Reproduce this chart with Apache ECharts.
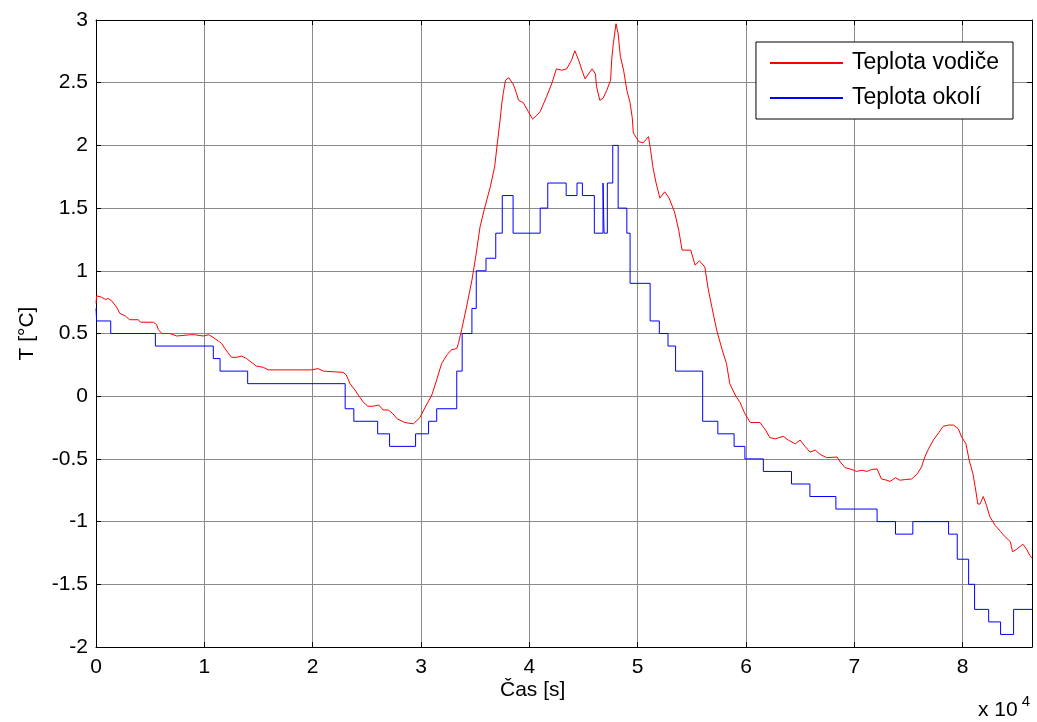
<!DOCTYPE html>
<html>
<head>
<meta charset="utf-8">
<script src="https://cdn.jsdelivr.net/npm/echarts@6/dist/echarts.min.js"></script>
<style>
html, body { margin: 0; padding: 0; background: #fff; }
#main { width: 1037px; height: 722px; }
</style>
</head>
<body>
<div id="main"></div>
<script>
// teplota vodice a okoli behem dne (cas v sekundach)
const seriesNames = ['Teplota vodiče', 'Teplota okolí'];
const yTicks = { min: -2, max: 3, step: 0.5 };
const xTicks = { min: 0, max: 86400, step: 10000 };

// vodic - cas [s]
const casVodic = [
    0, 60, 500, 900, 1100, 1450, 1900, 2200, 2700, 3100, 3900, 4100, 5300, 5600, 5750, 6100,
    6800, 7450, 8700, 9100, 9900, 10400, 10800, 11300, 11600, 11900, 12500, 13000, 13450, 13900,
    14800, 15450, 15900, 19900, 20500, 21000, 22800, 23100, 23450, 23900, 24200, 24700, 25100,
    25600, 26100, 26500, 27000, 27400, 27800, 28500, 29300, 29900, 30500, 31000, 31450, 31900,
    32400, 32800, 33300, 33450, 33750, 34200, 34700, 35100, 35450, 35900, 36400, 36800, 37050,
    37300, 37450, 37600, 37800, 38100, 38500, 38800, 39000, 39450, 39900, 40300, 40800, 41000,
    41600, 42100, 42500, 43000, 43450, 43900, 44200, 44550, 44850, 45150, 45450, 45800, 46100,
    46200, 46500, 46800, 47150, 47500, 47600, 47750, 48000, 48200, 48400, 48700, 49000, 49300,
    49500, 49600, 50100, 50500, 51000, 51200, 51400, 51700, 52050, 52500, 52900, 53400, 53800,
    54100, 54900, 55300, 55700, 56200, 56500, 56850, 57300, 57800, 58200, 58500, 59000, 59450,
    59900, 60400, 61300, 61800, 62200, 62700, 63450, 63900, 64550, 65000, 65450, 65900, 66400,
    66850, 67450, 68400, 68700, 69150, 69800, 70200, 70700, 71150, 71600, 72100, 72500, 73000,
    73300, 73800, 74200, 74700, 75300, 75800, 76200, 76500, 76850, 77300, 77800, 78200, 78700,
    79150, 79600, 79900, 80300, 80600, 80950, 81150, 81400, 81600, 81900, 82200, 82500, 83000,
    83500, 83900, 84400, 84600, 85000, 85550, 85900, 86200, 86400
];
const tempVodic = [
    0.74, 0.80, 0.79, 0.77, 0.78, 0.76, 0.71, 0.66, 0.64, 0.61, 0.61, 0.59, 0.59, 0.57, 0.53, 0.50,
    0.50, 0.48, 0.49, 0.49, 0.48, 0.49, 0.47, 0.44, 0.42, 0.38, 0.31, 0.31, 0.32, 0.30,
    0.24, 0.23, 0.21, 0.21, 0.22, 0.20, 0.19, 0.17, 0.10, 0.05, 0.01, -0.05, -0.08,
    -0.08, -0.07, -0.11, -0.11, -0.14, -0.18, -0.21, -0.22, -0.17, -0.07, 0.01, 0.13, 0.26,
    0.33, 0.37, 0.38, 0.42, 0.53, 0.71, 0.925, 1.14, 1.35, 1.51, 1.67, 1.83, 2.02,
    2.20, 2.33, 2.42, 2.52, 2.54, 2.49, 2.42, 2.36, 2.34, 2.27, 2.21, 2.25, 2.27,
    2.39, 2.50, 2.61, 2.60, 2.61, 2.68, 2.755, 2.68, 2.60, 2.53, 2.57, 2.61, 2.57,
    2.47, 2.36, 2.375, 2.44, 2.52, 2.68, 2.81, 2.97, 2.89, 2.71, 2.60, 2.44, 2.34,
    2.22, 2.10, 2.03, 2.02, 2.07, 1.96, 1.83, 1.70, 1.58, 1.63, 1.58, 1.47, 1.32,
    1.165, 1.165, 1.045, 1.08, 1.03, 0.86, 0.71, 0.525, 0.37, 0.26, 0.10, 0.01, -0.05,
    -0.14, -0.21, -0.21, -0.27, -0.33, -0.34, -0.32, -0.35, -0.38, -0.35, -0.40, -0.445, -0.43,
    -0.465, -0.49, -0.485, -0.525, -0.57, -0.585, -0.60, -0.59, -0.60, -0.585, -0.58, -0.66, -0.67,
    -0.68, -0.65, -0.67, -0.665, -0.66, -0.62, -0.565, -0.485, -0.42, -0.35, -0.29, -0.24, -0.23,
    -0.23, -0.26, -0.325, -0.38, -0.51, -0.62, -0.72, -0.86, -0.86, -0.80, -0.87, -0.96, -1.03,
    -1.08, -1.12, -1.16, -1.24, -1.22, -1.18, -1.22, -1.27, -1.29
];

// okoli - schodovity prubeh (zacatek useku, hodnota)
const casOkoli = [
    0, 60, 1360, 5480, 10830, 11450, 14000, 23000, 23800, 26000, 27100, 29500, 30700, 31450,
    33300, 33800, 34700, 35100, 36000, 36900, 37500, 38500, 41000, 41700, 43400, 44400, 44900,
    46000, 46800, 46900, 47200, 47700, 48200, 49000, 49300, 51150, 52000, 52800, 53500, 56000,
    57400, 58900, 59900, 61600, 64200, 65900, 68300, 72100, 73800, 75400, 78700, 79500, 80550,
    81100, 82400, 83500, 84700, 86400
];
const tempOkoli = [
    0.7, 0.6, 0.5, 0.4, 0.3, 0.2, 0.1, -0.1, -0.2, -0.3, -0.4, -0.3, -0.2, -0.1,
    0.2, 0.5, 0.7, 1.0, 1.1, 1.3, 1.6, 1.3, 1.5, 1.7, 1.6, 1.7, 1.6,
    1.3, 1.7, 1.3, 1.7, 2.0, 1.5, 1.3, 0.9, 0.6, 0.5, 0.4, 0.2, -0.2,
    -0.3, -0.4, -0.5, -0.6, -0.7, -0.8, -0.9, -1.0, -1.1, -1.0, -1.1, -1.3, -1.5,
    -1.7, -1.8, -1.9, -1.7, -1.7
];

const FONT = '"Liberation Sans", Arial, sans-serif';
const FS = 21;
const chart = echarts.init(document.getElementById('main'));

function zipData(xs, ys) {
    return xs.map((x, i) => [x, ys[i]]);
}

const frameAxis = {
    axisLine: { show: true, onZero: false, lineStyle: { color: '#000', width: 1 } },
    axisTick: { show: true, inside: true, length: 5, lineStyle: { color: '#000' } },
    axisLabel: { show: false },
    splitLine: { show: false }
};

chart.setOption({
    animation: false,
    backgroundColor: '#fff',
    textStyle: { fontFamily: FONT },
    grid: { left: 96, right: 5, top: 20, bottom: 75, containLabel: false },
    legend: {
        orient: 'vertical',
        right: 24,
        top: 42,
        padding: [8, 14, 8, 14],
        itemGap: 9,
        itemWidth: 73,
        itemHeight: 2,
        icon: 'rect',
        backgroundColor: '#fff',
        borderColor: '#000',
        borderWidth: 1,
        borderRadius: 0,
        textStyle: { fontFamily: FONT, fontSize: 23, lineHeight: 26, color: '#000', padding: [0, 0, 0, 4] },
        data: seriesNames
    },
    xAxis: [{
        type: 'value',
        min: xTicks.min, max: xTicks.max, interval: xTicks.step,
        axisLine: { show: true, onZero: false, lineStyle: { color: '#000', width: 1 } },
        axisTick: { show: true, inside: true, length: 5, lineStyle: { color: '#000' } },
        axisLabel: {
            fontFamily: FONT, fontSize: FS, color: '#000', margin: 10,
            showMaxLabel: false,
            formatter: v => String(v / 10000)
        },
        splitLine: { show: true, lineStyle: { color: '#8a8a8a', width: 1 } }
    }, Object.assign({
        type: 'value', position: 'top',
        min: xTicks.min, max: xTicks.max, interval: xTicks.step
    }, frameAxis)],
    yAxis: [{
        type: 'value',
        min: yTicks.min, max: yTicks.max, interval: yTicks.step,
        name: 'T [°C]',
        nameLocation: 'middle',
        nameRotate: 90,
        nameGap: 58,
        nameTextStyle: { fontFamily: FONT, fontSize: FS, color: '#000' },
        axisLine: { show: true, onZero: false, lineStyle: { color: '#000', width: 1 } },
        axisTick: { show: true, inside: true, length: 5, lineStyle: { color: '#000' } },
        axisLabel: { fontFamily: FONT, fontSize: FS, color: '#000', margin: 8 },
        splitLine: { show: true, lineStyle: { color: '#8a8a8a', width: 1 } }
    }, Object.assign({
        type: 'value', position: 'right',
        min: yTicks.min, max: yTicks.max, interval: yTicks.step
    }, frameAxis)],
    graphic: [{
        type: 'text',
        left: 500, top: 680,
        style: { text: 'Čas [s]', fontFamily: FONT, fontSize: FS, fill: '#000' }
    }, {
        type: 'text',
        left: 978, top: 694,
        style: {
            text: '{b|x 10}{s|4}',
            rich: {
                b: { fontFamily: FONT, fontSize: FS, fill: '#000', verticalAlign: 'bottom' },
                s: { fontFamily: FONT, fontSize: 15, fill: '#000', verticalAlign: 'top', padding: [0, 0, 12, 4] }
            }
        }
    }],
    series: [{
        name: seriesNames[0],
        type: 'line',
        xAxisIndex: 0, yAxisIndex: 0,
        showSymbol: false,
        symbol: 'none',
        lineStyle: { color: '#ff0000', width: 1 },
        itemStyle: { color: '#ff0000' },
        data: zipData(casVodic, tempVodic),
        z: 3
    }, {
        name: seriesNames[1],
        type: 'line',
        step: 'end',
        xAxisIndex: 0, yAxisIndex: 0,
        showSymbol: false,
        symbol: 'none',
        lineStyle: { color: '#0000ff', width: 1 },
        itemStyle: { color: '#0000ff' },
        data: zipData(casOkoli, tempOkoli),
        z: 2
    }]
});
</script>
</body>
</html>
